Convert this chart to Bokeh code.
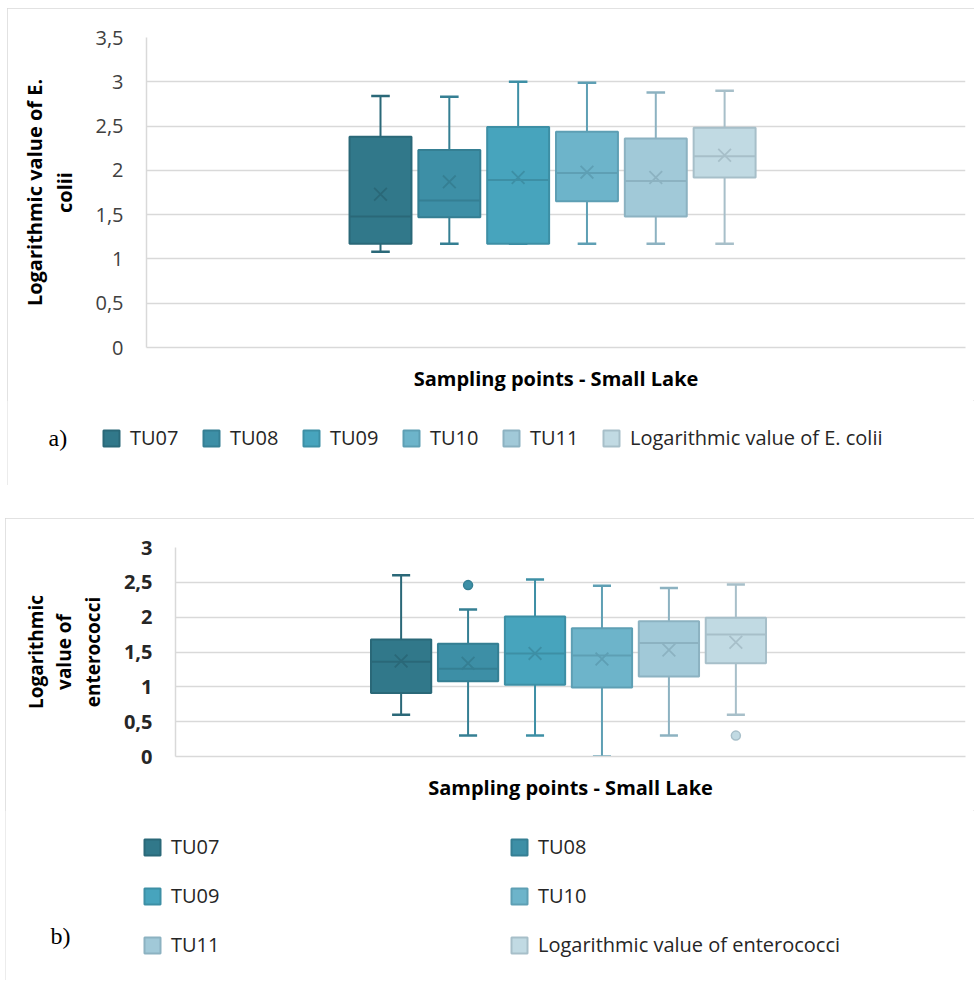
from bokeh.plotting import figure
from bokeh.models import Range1d, Legend, LegendItem, Label, FixedTicker
from bokeh.layouts import column
from bokeh.embed import file_html
from bokeh.resources import INLINE

# ---------------- data ----------------
names_a = ["TU07", "TU08", "TU09", "TU10", "TU11", "Logarithmic value of E. colii"]
names_b = ["TU07", "TU08", "TU09", "TU10", "TU11", "Logarithmic value of enterococci"]

ecoli_min = [1.08, 1.17, 1.17, 1.17, 1.17, 1.17]
ecoli_q1 = [1.17, 1.47, 1.17, 1.65, 1.48, 1.92]
ecoli_median = [1.48, 1.66, 1.89, 1.97, 1.88, 2.16]
ecoli_q3 = [2.38, 2.23, 2.49, 2.435, 2.36, 2.48]
ecoli_max = [2.84, 2.83, 3.00, 2.99, 2.88, 2.90]
ecoli_mean = [1.73, 1.87, 1.92, 1.98, 1.92, 2.17]
ecoli_out_idx = []
ecoli_out_val = []

ent_min = [0.60, 0.30, 0.30, 0.00, 0.30, 0.60]
ent_q1 = [0.91, 1.08, 1.03, 0.99, 1.15, 1.34]
ent_median = [1.36, 1.26, 1.48, 1.45, 1.63, 1.75]
ent_q3 = [1.68, 1.62, 2.01, 1.84, 1.94, 1.99]
ent_max = [2.60, 2.11, 2.54, 2.45, 2.42, 2.47]
ent_mean = [1.37, 1.34, 1.48, 1.40, 1.53, 1.64]
ent_out_idx = [1, 5]
ent_out_val = [2.46, 0.30]

ticks_a = [0, 0.5, 1, 1.5, 2, 2.5, 3, 3.5]
tick_labels_a = ["0", "0,5", "1", "1,5", "2", "2,5", "3", "3,5"]
ticks_b = [0, 0.5, 1, 1.5, 2, 2.5, 3]
tick_labels_b = ["0", "0,5", "1", "1,5", "2", "2,5", "3"]

x_title = "Sampling points - Small Lake"
y_title_a = "Logarithmic value of E.\ncolii"
y_title_b = "Logarithmic\nvalue of\nenterococci"

# ---------------- style ----------------
FILLS = ["#31788A", "#3D8FA6", "#47A4BD", "#6DB4CA", "#A1C9D8", "#C1DAE3"]
LINES = ["#2A6878", "#357F93", "#3D8FA5", "#5E9FB4", "#8CB2C1", "#A7BFC9"]
FONT = "Open Sans"
GRID = "#d9d9d9"
BOX_W = 0.9
CAP_W = 0.27
PANEL_STYLE = {"outline": "1px solid #d9d9d9", "outline-offset": "-1px"}


def make_chart(width, height, borders, x_rng, y_max, ticks, tick_labels, tick_bold,
               ylab, ylab_size, ylab_lh, ylab_standoff, names, mins, q1s, meds, q3s, maxs,
               means, out_idx, out_val):
    left, right, top, bottom = borders
    p = figure(width=width, height=height, x_range=Range1d(*x_rng),
               y_range=Range1d(0, y_max), output_backend="svg", toolbar_location=None,
               min_border_left=left, min_border_right=right, min_border_top=top,
               min_border_bottom=bottom)
    p.outline_line_color = None
    p.background_fill_color = "white"
    p.border_fill_color = "white"
    p.xgrid.visible = False
    p.ygrid.grid_line_color = GRID
    p.ygrid.grid_line_width = 1.5
    p.ygrid.ticker = FixedTicker(ticks=ticks)

    ya = p.yaxis[0]
    ya.ticker = FixedTicker(ticks=ticks)
    ya.major_label_overrides = {t: l for t, l in zip(ticks, tick_labels)}
    ya.axis_line_color = GRID
    ya.axis_line_width = 1.5
    ya.major_tick_line_color = None
    ya.minor_tick_line_color = None
    ya.major_label_standoff = 17
    ya.major_label_text_font = FONT
    ya.major_label_text_font_size = "20px"
    ya.major_label_text_color = "#262626" if tick_bold else "#404040"
    ya.major_label_text_font_style = "bold" if tick_bold else "normal"
    ya.axis_label = ylab
    ya.axis_label_text_font = FONT
    ya.axis_label_text_font_size = ylab_size
    ya.axis_label_text_font_style = "bold"
    ya.axis_label_text_color = "#000000"
    ya.axis_label_text_line_height = ylab_lh
    ya.axis_label_standoff = ylab_standoff

    xa = p.xaxis[0]
    xa.ticker = FixedTicker(ticks=[])
    xa.axis_line_color = GRID
    xa.axis_line_width = 1.5
    xa.major_tick_line_color = None
    xa.minor_tick_line_color = None
    xa.major_label_text_font_size = "0px"
    xa.major_label_standoff = 0
    xa.axis_label = x_title
    xa.axis_label_text_font = FONT
    xa.axis_label_text_font_size = "20px"
    xa.axis_label_text_font_style = "bold"
    xa.axis_label_text_color = "#000000"
    xa.axis_label_standoff = 17

    n = len(names)
    for i in range(n):
        x = i - (n - 1) / 2
        fc, lc = FILLS[i], LINES[i]
        p.segment(x0=[x, x], y0=[q3s[i], q1s[i]], x1=[x, x], y1=[maxs[i], mins[i]],
                  line_color=lc, line_width=2)
        p.segment(x0=[x - CAP_W / 2, x - CAP_W / 2], y0=[maxs[i], mins[i]],
                  x1=[x + CAP_W / 2, x + CAP_W / 2], y1=[maxs[i], mins[i]],
                  line_color=lc, line_width=2.5)
        p.vbar(x=[x], width=BOX_W, top=[q3s[i]], bottom=[q1s[i]], fill_color=fc,
               line_color=lc, line_width=2)
        p.segment(x0=[x - BOX_W / 2], y0=[meds[i]], x1=[x + BOX_W / 2], y1=[meds[i]],
                  line_color=lc, line_width=2)
        p.scatter(x=[x], y=[means[i]], marker="x", size=18, line_color=lc, line_width=1.8)
    for j, v in zip(out_idx, out_val):
        x = j - (n - 1) / 2
        p.scatter(x=[x], y=[v], marker="circle", size=9, fill_color=FILLS[j],
                  line_color=LINES[j], line_width=1.5)
    return p


def make_legend_fig(width, height, names, q1s, q3s, loc, ncols, label_width, spacing,
                    tag, tag_pos):
    f = figure(width=width, height=height, x_range=Range1d(0, 1), y_range=Range1d(0, 1),
               output_backend="svg", toolbar_location=None, min_border=0,
               x_axis_location=None, y_axis_location=None)
    f.grid.visible = False
    f.outline_line_color = None
    f.background_fill_color = "white"
    f.border_fill_color = "white"
    # legend swatches (renderers hidden; only their legend glyphs are shown)
    rs = [f.vbar(x=[i], top=[q3s[i]], bottom=[q1s[i]], width=1, fill_color=FILLS[i],
                 line_color=LINES[i], line_width=2, visible=False)
          for i in range(len(names))]
    leg = Legend(items=[LegendItem(label=nm, renderers=[r]) for nm, r in zip(names, rs)],
                 orientation="horizontal", ncols=ncols, location=loc, glyph_width=20,
                 glyph_height=20, label_standoff=9, label_width=label_width, spacing=spacing,
                 padding=0, margin=0, border_line_color=None, background_fill_alpha=0,
                 label_text_font=FONT, label_text_font_size="20px",
                 label_text_color="#262626")
    f.add_layout(leg)
    f.add_layout(Label(x=tag_pos[0], y=tag_pos[1], x_units="screen", y_units="screen",
                       text=tag, text_font="Liberation Serif", text_font_size="24px",
                       text_baseline="middle", text_color="#000000"))
    return f


# ---------------- panel a ----------------
chart_a = make_chart(967, 392, (139, 9, 29, 53), (-5.90, 6.0), 3.5, ticks_a, tick_labels_a,
                     False, y_title_a, "20px", 1.12, 14, names_a, ecoli_min, ecoli_q1,
                     ecoli_median, ecoli_q3, ecoli_max, ecoli_mean, ecoli_out_idx, ecoli_out_val)
leg_a = make_legend_fig(967, 85, names_a, ecoli_q1, ecoli_q3, (94, 34), 6, 50, 21,
                        "a)", (41, 48))
col_a = column(chart_a, column(leg_a), spacing=0, margin=(8, 0, 0, 7), styles=PANEL_STYLE)

# ---------------- panel b ----------------
chart_b = make_chart(969, 292, (170, 9, 29, 54), (-5.87, 5.93), 3.0, ticks_b, tick_labels_b,
                     True, y_title_b, "19px", 1.1, 15, names_b, ent_min, ent_q1, ent_median,
                     ent_q3, ent_max, ent_mean, ent_out_idx, ent_out_val)
leg_b = make_legend_fig(969, 170, names_b, ent_q1, ent_q3, (137, 22), 2, 316, 22,
                        "b)", (45, 45))
col_b = column(chart_b, column(leg_b), spacing=0, margin=(0, 0, 0, 5), styles=PANEL_STYLE)

layout = column(col_a, col_b, spacing=33)
open("out.html", "w").write(file_html(layout, INLINE))
